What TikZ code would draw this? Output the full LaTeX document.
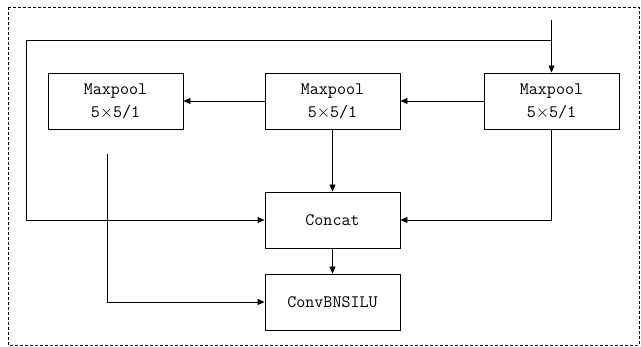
\documentclass[tikz,border=0pt]{standalone}
\usepackage{amsmath}
\usetikzlibrary{calc,arrows.meta}

\begin{document}
\begin{tikzpicture}[x=1pt, y=-1pt,
	>={Triangle[length=7pt,width=6pt]},
	line width=0.9pt,
	block/.style={draw, minimum width=135pt, minimum height=56pt,
		align=center, font=\ttfamily\fontsize{17.5}{23}\selectfont},
	frame/.style={line width=0.7pt, dash pattern=on 3pt off 2pt}]

% frame %{{{2

	\useasboundingbox (0,0) rectangle (641,347);
	\draw[frame] (8,7) rectangle (639,345);

% blocks %{{{2

	\node[block] (pool1) at (115.5,101) {Maxpool\\5$\times$5/1};
	\node[block] (pool2) at (332.5,101) {Maxpool\\5$\times$5/1};
	\node[block] (pool3) at (551.5,101) {Maxpool\\5$\times$5/1};

	\node[block] (concat) at (332.5,220) {Concat};
	\node[block] (conv)   at (332.5,302) {ConvBNSILU};

% coordinates %{{{2

	\coordinate (in)    at (551.5,20);
	\coordinate (split) at (551.5,40);
	\coordinate (loop)  at (26,40);

	% loose end below the left pool
	\coordinate (tap) at (107,154);

% connectors %{{{2

	\draw[->] (in) -- (pool3);
	\draw[->] (pool3) -- (pool2);
	\draw[->] (pool2) -- (pool1);

	\draw[->] (pool2) -- (concat);
	\draw[->] (pool3.south) |- (concat.east);

	% shortcut round the pools
	\draw[->] (split) -- (loop) |- (concat.west);

	\draw[->] (tap) |- (conv.west);
	\draw[->] (concat) -- (conv);

% closing %{{{2

\end{tikzpicture}
\end{document}
